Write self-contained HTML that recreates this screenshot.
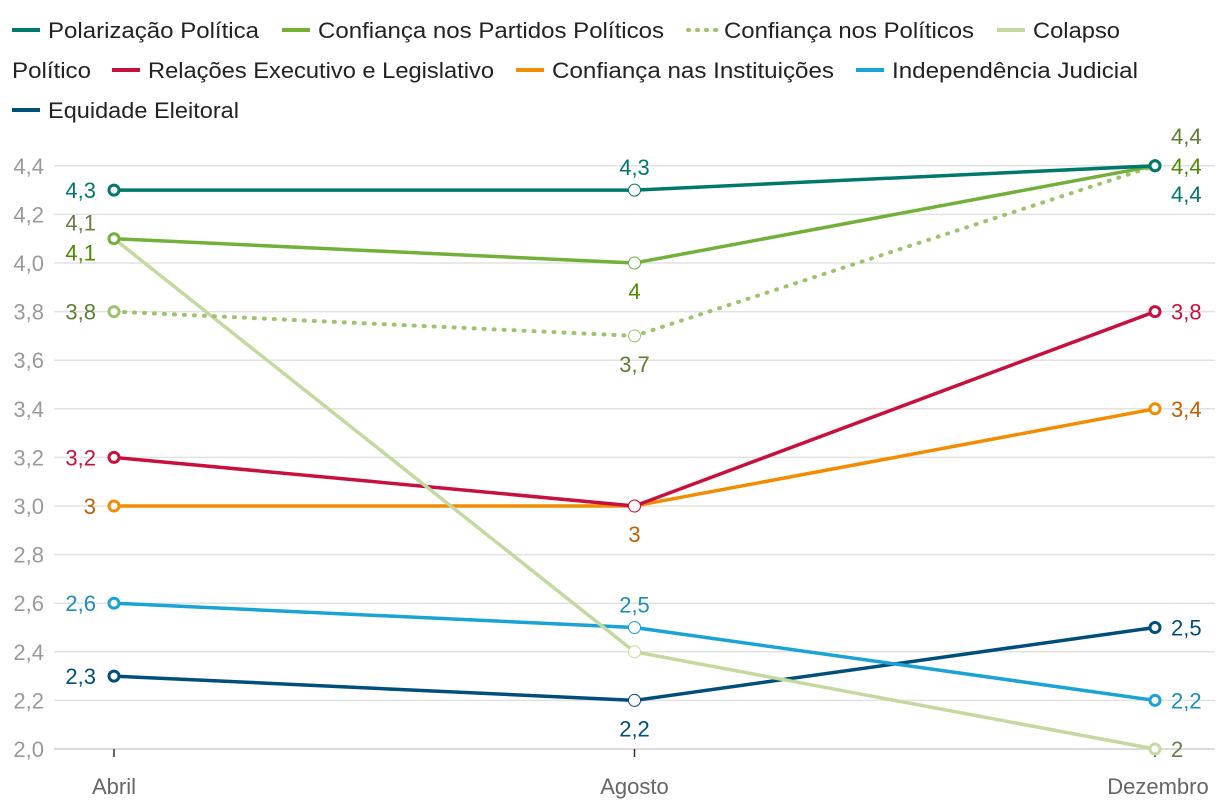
<!DOCTYPE html>
<html><head><meta charset="utf-8"><style>
body{margin:0;background:#fff;}
svg{display:block;font-family:"Liberation Sans",sans-serif;}
</style></head><body>
<svg id="chart" width="1220" height="810">
<g id="legend"></g>
<g id="grid"></g>
<g id="yaxis"></g>
<g id="xaxis"></g>
<g id="series"></g>
</svg>
<script>
const categories = ["Abril","Agosto","Dezembro"];
const yTicks = [2.0,2.2,2.4,2.6,2.8,3.0,3.2,3.4,3.6,3.8,4.0,4.2,4.4];
const seriesNames = ["Polarização Política","Confiança nos Partidos Políticos","Confiança nos Políticos","Colapso Político","Relações Executivo e Legislativo","Confiança nas Instituições","Independência Judicial","Equidade Eleitoral"];
const polarizacao = [4.3,4.3,4.4];
const partidos = [4.1,4.0,4.4];
const politicos = [3.8,3.7,4.4];
const colapso = [4.1,2.4,2.0];
const relacoes = [3.2,3.0,3.8];
const instituicoes = [3.0,3.0,3.4];
const independencia = [2.6,2.5,2.2];
const equidade = [2.3,2.2,2.5];
const values = [polarizacao,partidos,politicos,colapso,relacoes,instituicoes,independencia,equidade];

const lineColors = ["#00796b","#72b03a","#9dc46a","#c3d9a0","#c8103f","#f28c00","#1aa3d4","#004f7a"];
const labelColors = ["#00796b","#4d8a00","#5e7d2f","#6b7d4a","#c8103f","#c25e00","#1a8fb8","#004f7a"];
const midPlace = ["above","below","below","n","n","below","above","below"];
const leftShift = [0,14,0,-16,0,0,0,0];
const rightShift = [28,0,-30,0,0,0,0,0];

const NS="http://www.w3.org/2000/svg";
const xs = i => 114 + i*520.5;
const y = v => 749 - (v-2.0)/0.2*48.6;
function mk(tag,attrs,parent){const e=document.createElementNS(NS,tag);for(const k in attrs)e.setAttribute(k,attrs[k]);parent.appendChild(e);return e;}

const grid=document.getElementById('grid'),yax=document.getElementById('yaxis'),xax=document.getElementById('xaxis'),ser=document.getElementById('series'),leg=document.getElementById('legend');
yTicks.forEach(t=>{
  const l=mk('line',{x1:54,x2:1215,y1:y(t),y2:y(t),stroke:t===2.0?'#cfcfcf':'#e2e2e2','stroke-width':1.5},grid);
  
  
  const tx=mk('text',{x:44,y:y(t)+8,'text-anchor':'end','font-size':22,fill:'#9a9a9a'},yax);
  tx.textContent=t.toFixed(1).replace('.',',');
  
  
});
categories.forEach((c,i)=>{
  mk('line',{x1:xs(i),x2:xs(i),y1:749,y2:757,stroke:'#333','stroke-width':1.5},xax);
  const tx=mk('text',{x:i===2?1158:xs(i),y:794,'text-anchor':'middle','font-size':22,fill:'#666'},xax);
  tx.textContent=c;
  
  
});
const fmt=v=>(Math.round(v*10)/10).toString().replace('.',',');
for(let s=values.length-1;s>=0;s--){
  const vals=values[s];
  const g=mk('g',{},ser);
  
  
  const pts=vals.map((v,i)=>xs(i)+','+y(v)).join(' ');
  const pl=mk('polyline',{points:pts,fill:'none',stroke:lineColors[s],'stroke-width':3.5,'stroke-linejoin':'round'},g);
  if(s===2){pl.setAttribute('stroke-dasharray','1 9');pl.setAttribute('stroke-linecap','round');pl.setAttribute('stroke-width',4);}
  
  
  vals.forEach((v,i)=>{
    const c=i===1?mk('circle',{cx:xs(i),cy:y(v),r:6,fill:'#fff',stroke:lineColors[s],'stroke-width':1},g)
                 :mk('circle',{cx:xs(i),cy:y(v),r:5,fill:'#fff',stroke:lineColors[s],'stroke-width':3},g);
    
    
    let lx,ly,anchor;
    if(i===0){lx=96;ly=y(v)+8+leftShift[s];anchor='end';}
    else if(i===1){if(midPlace[s]==='n')return;lx=xs(1);anchor='middle';ly=midPlace[s]==='above'?y(v)-15:y(v)+36;}
    else {lx=1171;ly=y(v)+8+rightShift[s];anchor='start';}
    const t=mk('text',{x:lx,y:ly,'text-anchor':anchor,'font-size':22,fill:labelColors[s]},g);
    t.textContent=fmt(v);
    
    
  });
}
const legItems=[[0,12,30,211],[1,282,30,346],[2,688,30,250],[3,997,30,87],[4,112,70,346],[5,516,70,282],[6,856,70,246],[7,12,110,191]];
legItems.forEach(([s,x,yy,w])=>{
  const g=mk('g',{},leg);
  
  
  const ln=mk('line',{x1:x,x2:x+28,y1:yy,y2:yy,stroke:lineColors[s],'stroke-width':4},g);
  if(s===2){ln.setAttribute('stroke-dasharray','1 8');ln.setAttribute('stroke-linecap','round');}
  const t=mk('text',{x:x+36,y:yy+8,'font-size':22,fill:'#222',textLength:w,lengthAdjust:'spacingAndGlyphs'},g);
  t.textContent=s===3?'Colapso':seriesNames[s];
});
const t2=mk('text',{x:12,y:78,'font-size':22,fill:'#222',textLength:79,lengthAdjust:'spacingAndGlyphs'},leg);
t2.textContent='Político';


</script>
</body></html>
